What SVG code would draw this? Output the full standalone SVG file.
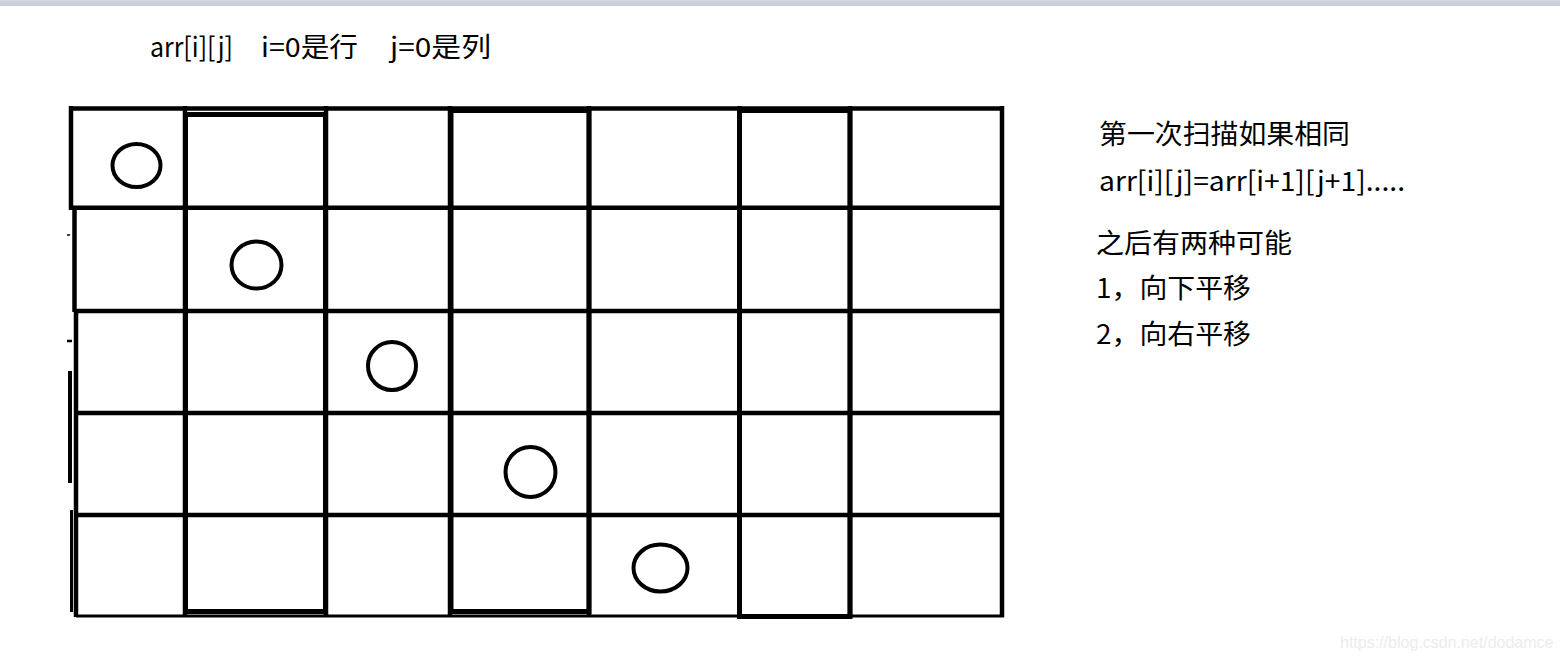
<svg xmlns="http://www.w3.org/2000/svg" width="1560" height="660" viewBox="0 0 1560 660">
<style>
.g{stroke:#000;stroke-width:4.5;fill:none;stroke-linecap:butt}
.t{stroke:#000;stroke-width:5;fill:none}
.c{stroke:#000;stroke-width:4;fill:none}
.tx{font-family:"Noto Sans CJK SC","Microsoft YaHei",sans-serif;font-size:27px;fill:#000}
.wm{font-family:"Liberation Sans",Arial,sans-serif;font-size:16px;fill:#ececec}
</style>
<rect x="0" y="0" width="1560" height="660" fill="#fff"/>
<rect x="0" y="0" width="1560" height="6" fill="#c9cfdd"/>
<rect x="0" y="0" width="1560" height="1.5" fill="#d4d8e2"/>
<g id="title">
<text class="tx" x="150" y="57" textLength="83" lengthAdjust="spacingAndGlyphs">arr[i][j]</text>
<text class="tx" x="261" y="57" textLength="97" lengthAdjust="spacingAndGlyphs">i=0是行</text>
<text class="tx" x="390" y="57" textLength="101" lengthAdjust="spacingAndGlyphs">j=0是列</text>
</g>
<g id="grid">
<line class="g" x1="69" y1="108.5" x2="1003" y2="108.5"/>
<line class="g" x1="73" y1="207.7" x2="1001" y2="207.7"/>
<line class="g" x1="75" y1="311" x2="1002" y2="311"/>
<line class="g" x1="76" y1="413" x2="1004" y2="413"/>
<line class="g" x1="76" y1="515" x2="1004" y2="515"/>
<line x1="76" y1="616" x2="1004" y2="616" stroke="#000" stroke-width="3"/>
<line class="g" x1="71" y1="106" x2="71" y2="210"/>
<line class="g" x1="74.5" y1="208" x2="74.5" y2="312"/>
<line class="g" x1="76" y1="310" x2="76" y2="617"/>
<line class="g" x1="1002" y1="106" x2="1002" y2="617"/>
<line class="g" x1="326" y1="106" x2="326" y2="616"/>
<line class="g" x1="589" y1="106" x2="589" y2="616"/>
<line class="g" x1="739.5" y1="106" x2="739.5" y2="616"/>
<line class="g" x1="850" y1="106" x2="850" y2="616"/>
<line class="g" x1="185" y1="106" x2="185" y2="616"/>
<line class="g" x1="450" y1="106" x2="450" y2="616"/>
</g>
<g id="marks">
<line x1="67" y1="235" x2="70" y2="235" stroke="#000" stroke-width="1.5"/>
<line x1="67" y1="341" x2="72" y2="341" stroke="#000" stroke-width="2.5"/>
<line x1="70" y1="371" x2="70" y2="483" stroke="#000" stroke-width="4"/>
<line x1="71.5" y1="510" x2="71.5" y2="612" stroke="#000" stroke-width="3"/>
</g>
<g id="col-a"><rect class="t" x="185.5" y="114.5" width="140" height="497"/></g>
<g id="col-b"><rect class="t" x="451" y="110.5" width="138" height="501"/></g>
<g id="col-c"><rect class="t" x="739.5" y="110.5" width="110.5" height="506"/></g>
<g id="circles">
<ellipse class="c" cx="136.5" cy="165.5" rx="24" ry="21.5"/>
<ellipse class="c" cx="256.5" cy="265" rx="25" ry="23.5"/>
<ellipse class="c" cx="392" cy="366" rx="24" ry="24"/>
<ellipse class="c" cx="530.5" cy="472" rx="25" ry="25"/>
<ellipse class="c" cx="660.5" cy="568" rx="27" ry="23.5"/>
</g>
<g id="notes">
<text class="tx" x="1099" y="144" textLength="251" lengthAdjust="spacingAndGlyphs">第一次扫描如果相同</text>
<text class="tx" x="1099" y="191" textLength="306" lengthAdjust="spacingAndGlyphs">arr[i][j]=arr[i+1][j+1].....</text>
<text class="tx" x="1096" y="253" textLength="196" lengthAdjust="spacingAndGlyphs">之后有两种可能</text>
<text class="tx" x="1096" y="298" textLength="155" lengthAdjust="spacingAndGlyphs">1，向下平移</text>
<text class="tx" x="1096" y="344" textLength="155" lengthAdjust="spacingAndGlyphs">2，向右平移</text>
</g>
<text class="wm" x="1340" y="648">https://blog.csdn.net/dodamce</text>
</svg>
